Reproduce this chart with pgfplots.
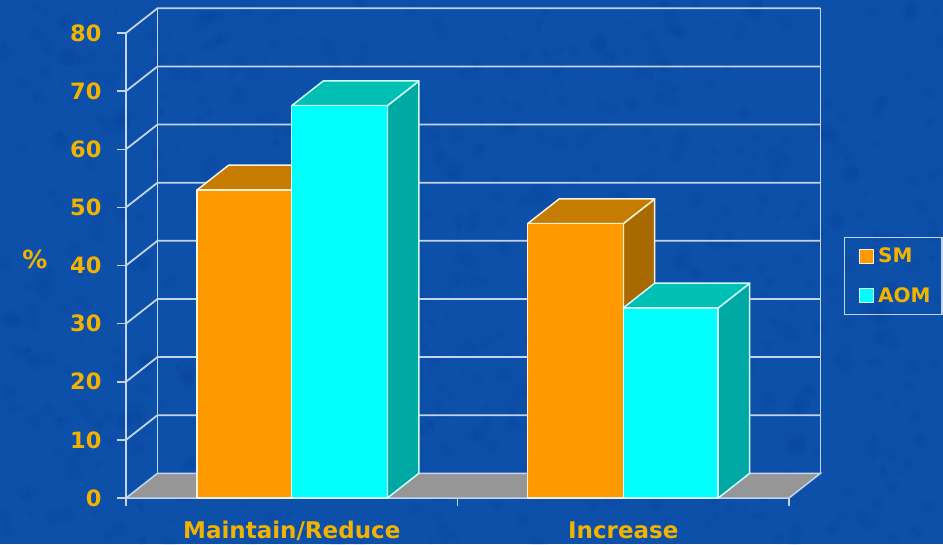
\documentclass[border=0pt]{standalone}
\usepackage{fontspec}
\setmainfont{DejaVu Sans}
\usepackage{pgfplots}
\pgfplotsset{compat=1.18}

\definecolor{slide}{HTML}{0D50AA}
\definecolor{slidedark}{HTML}{06398F}
\definecolor{rule}{HTML}{C4D4EE}
\definecolor{label}{HTML}{F2B200}
\definecolor{floorgrey}{HTML}{969696}
\definecolor{smfront}{HTML}{FF9900}
\definecolor{smtop}{HTML}{C67C00}
\definecolor{smside}{HTML}{A86A00}
\definecolor{aomfront}{HTML}{00FFFF}
\definecolor{aomtop}{HTML}{00C0B4}
\definecolor{aomside}{HTML}{00A8A4}

% depth of the box: offset of the back plane in axis units
\def\depthx{0.095}
\def\depthy{4.25}

% one box: left edge, right edge, value, face colours, edge colour prefix
\newcommand{\boxbar}[7]{%
  \pgfmathsetmacro{\xa}{#1+\depthx}%
  \pgfmathsetmacro{\xb}{#2+\depthx}%
  \pgfmathsetmacro{\yb}{#3+\depthy}%
  \edef\drawfaces{%
    \noexpand\addplot[forget plot,draw=#7edge,line width=1.5pt,fill=#6,line join=round]
      coordinates {(#2,0) (\xb,\depthy) (\xb,\yb) (#2,#3)} --cycle;
    \noexpand\addplot[forget plot,draw=#7edge,line width=1.5pt,fill=#5,line join=round]
      coordinates {(#1,#3) (\xa,\yb) (\xb,\yb) (#2,#3)} --cycle;
    \noexpand\addplot[draw=#7edge,line width=1.5pt,fill=#4,line join=round]
      coordinates {(#1,0) (#1,#3) (#2,#3) (#2,0)} --cycle;
  }%
  \drawfaces
}
\colorlet{smedge}{white!85!smfront}
\colorlet{aomedge}{white!80!aomfront}

\begin{document}
\begin{tikzpicture}[x=1pt,y=1pt]
  % slide backdrop with its mottled surface
  \path[use as bounding box,fill=slide] (-126,-46) rectangle (817,498);
  \pgfmathsetseed{4711}
  \begin{scope}
    \clip (-126,-46) rectangle (817,498);
    \foreach \n in {1,...,700}{
      \pgfmathsetmacro{\px}{-126+943*rnd}
      \pgfmathsetmacro{\py}{-46+544*rnd}
      \pgfmathsetmacro{\pr}{3+9*rnd}
      \fill[slidedark,opacity=0.06] (\px,\py) circle[radius=\pr];
      \fill[slidedark,opacity=0.05] (\px,\py) circle[radius=0.55*\pr];
    }
  \end{scope}
  \begin{axis}[
    at={(0,0)},anchor=south west,
    scale only axis,width=663pt,height=465pt,
    xmin=-0.5,xmax=1.5,ymin=0,ymax=80,
    clip=false,
    axis lines*=left,
    axis line style={draw=rule,line width=1.8pt},
    major tick length=9pt,
    minor tick length=8pt,
    tick align=outside,
    tick style={draw=rule,line width=1.5pt},
    major x tick style={draw=none},
    ytick={0,10,...,80},
    xtick={0,1},
    minor xtick={-0.5,0.5,1.5},
    xticklabels={Maintain/Reduce,Increase},
    /pgf/number format/assume math mode=true,
    tick label style={text=label,font=\fontsize{22.5}{22.5}\selectfont\bfseries},
    x tick label style={anchor=base,yshift=-31pt,font=\fontsize{23}{23}\selectfont\bfseries},
    y tick label style={anchor=east,xshift=-12pt},
    ylabel={\%},
    ylabel style={text=label,font=\fontsize{25}{25}\selectfont\bfseries,rotate=-90,anchor=center,at={(axis cs:-0.775,41)}},
    legend style={
      at={(axis cs:1.666,44.9)},anchor=north west,
      draw=rule,line width=1.2pt,fill=none,text=label,
      font=\fontsize{20}{20}\selectfont\bfseries,
      inner xsep=9pt,inner ysep=8pt,
      row sep=18pt,
      nodes={inner sep=2.5pt},
    },
    legend cell align=left,
    legend image code/.code={
      \path[draw=none,fill=none] (3pt,0pt) -- (25pt,0pt);
      \draw[#1,line width=1pt] (9pt,-7pt) rectangle (23pt,7pt);
    },
  ]
    % back wall, left wall and vertical edges
    \pgfplotsinvokeforeach{10,20,30,40,50,60,70,80}{
      \pgfmathsetmacro{\yv}{#1+\depthy}
      \edef\wallline{%
        \noexpand\addplot[forget plot,draw=rule,line width=1.8pt]
          coordinates {(-0.5,#1) (-0.405,\yv) (1.595,\yv)};
      }\wallline
    }
    \addplot[forget plot,draw=rule,line width=1.8pt] coordinates {(-0.405,4.25) (-0.405,84.25)};
    \addplot[forget plot,draw=rule,line width=1.8pt] coordinates {(1.595,4.25) (1.595,84.25)};
    % floor
    \addplot[forget plot,draw=rule,line width=1.5pt,fill=floorgrey]
      coordinates {(-0.5,0) (-0.405,4.25) (1.595,4.25) (1.5,0)} --cycle;
    % Maintain/Reduce
    \boxbar{-0.2855}{0}{53}{smfront}{smtop}{smside}{sm}
    \addlegendentry{SM}
    \boxbar{0}{0.2885}{67.5}{aomfront}{aomtop}{aomside}{aom}
    \addlegendentry{AOM}
    % Increase
    \pgfplotsset{forget plot}
    \boxbar{0.7115}{1}{47.2}{smfront}{smtop}{smside}{sm}
    \boxbar{1}{1.2865}{32.7}{aomfront}{aomtop}{aomside}{aom}
  \end{axis}
\end{tikzpicture}
\end{document}
